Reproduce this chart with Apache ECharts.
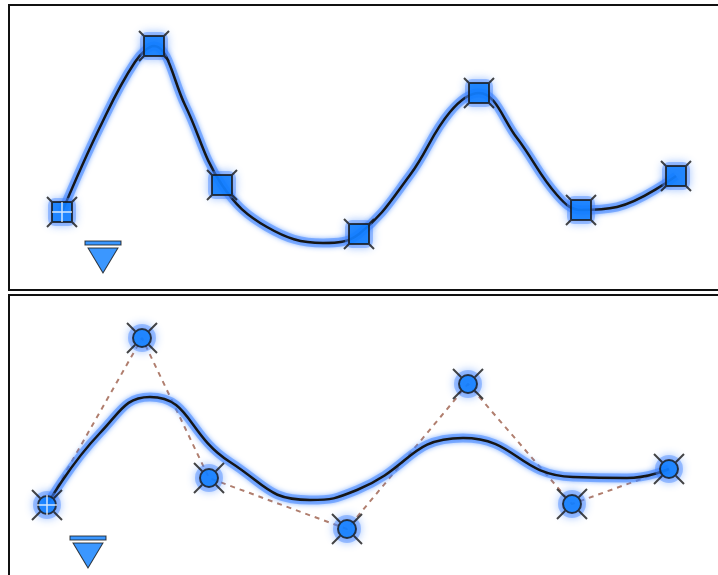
<!DOCTYPE html>
<html>
<head>
<meta charset="utf-8">
<script src="https://cdn.jsdelivr.net/npm/echarts@6/dist/echarts.min.js"></script>
<style>
    html, body {margin: 0; padding: 0; background: #fff;}
    #chart {width: 718px; height: 575px;}
</style>
</head>
<body>
<div id="chart"></div>
<script>
// top panel: fit points the spline runs through
var fitX = [62, 154, 222, 359, 479, 581, 676];
var fitY = [212, 46, 185, 234, 93, 210, 176];
// the spline itself
var fitCurveX = [62, 100, 135, 154, 185, 222, 267, 323, 359, 410, 450, 479, 517, 557, 581, 617, 676];
var fitCurveY = [212, 127, 62, 46, 105, 185, 227, 243, 234, 175, 112, 93, 138, 195, 210, 207, 176];

// bottom panel: control vertices and the curve they pull
var cvX = [47, 142, 209, 347, 468, 572, 669];
var cvY = [505, 338, 478, 529, 384, 504, 469];
var cvCurveX = [47, 100, 150, 230, 310, 357, 463, 573, 627, 669];
var cvCurveY = [505, 433, 397, 462, 500, 490, 438, 477, 478, 469];

// start markers (down triangle) under first point
var startX = [103, 88];
var startY = [257, 552];

function pairs(xs, ys) {
    return xs.map(function (x, i) {
        return [x, ys[i]];
    });
}

var BLUE = '#0a7dff';
var GLOW = '#2f7bff';
var HALO = 'rgba(70,135,255,0.55)';
var DARK = '#161616';

var squareGrip = 'path://M0,0 L5,5 M30,0 L25,5 M0,30 L5,25 M30,30 L25,25 M5,5 L25,5 L25,25 L5,25 Z';
var circleGrip = 'path://M0,0 L8,8 M30,0 L22,8 M0,30 L8,22 M30,30 L22,22 M6,15 A9,9 0 1 1 24,15 A9,9 0 1 1 6,15 Z';
var plus = 'path://M10,0 L10,20 M0,10 L20,10';
var startMark = 'path://M0,0 L36,0 L36,4 L0,4 Z M3,7 L33,7 L18,32 Z';

var chart = echarts.init(document.getElementById('chart'));

function curve(gi, xs, ys, smooth) {
    return [
        {
            type: 'line', xAxisIndex: gi, yAxisIndex: gi, clip: false,
            data: pairs(xs, ys), smooth: smooth, showSymbol: false, z: 2,
            lineStyle: {color: HALO, width: 9, shadowBlur: 5, shadowColor: GLOW}
        },
        {
            type: 'line', xAxisIndex: gi, yAxisIndex: gi, clip: false,
            data: pairs(xs, ys), smooth: smooth, showSymbol: false, z: 2,
            lineStyle: {color: DARK, width: 2.5}
        }
    ];
}

function grips(gi, xs, ys, symbol, haloSymbol) {
    return [
        {
            type: 'scatter', xAxisIndex: gi, yAxisIndex: gi, clip: false,
            data: pairs(xs, ys), symbol: haloSymbol, symbolSize: 28, z: 3,
            itemStyle: {color: HALO, shadowBlur: 8, shadowColor: GLOW}
        },
        {
            type: 'scatter', xAxisIndex: gi, yAxisIndex: gi, clip: false,
            data: pairs(xs, ys), symbol: symbol, symbolSize: 30, z: 4,
            itemStyle: {color: BLUE, borderColor: DARK, borderWidth: 2}
        }
    ];
}

var option = {
    animation: false,
    grid: [
        {left: 9, right: 0, top: 5, height: 285, show: false},
        {left: 9, right: 0, top: 295, bottom: 0, show: false}
    ],
    xAxis: [
        {type: 'value', gridIndex: 0, min: 9, max: 718, show: false},
        {type: 'value', gridIndex: 1, min: 9, max: 718, show: false}
    ],
    yAxis: [
        {type: 'value', gridIndex: 0, min: 5, max: 290, inverse: true, show: false},
        {type: 'value', gridIndex: 1, min: 295, max: 575, inverse: true, show: false}
    ],
    graphic: [
        {
            type: 'polyline', silent: true,
            shape: {points: [[720, 5], [9, 5], [9, 290], [720, 290]]},
            style: {stroke: '#111', lineWidth: 2, fill: null}
        },
        {
            type: 'polyline', silent: true,
            shape: {points: [[720, 295], [9, 295], [9, 580]]},
            style: {stroke: '#111', lineWidth: 2, fill: null}
        }
    ],
    series: [].concat(
        curve(0, fitCurveX, fitCurveY, 0.4),
        grips(0, fitX, fitY, squareGrip, 'roundRect'),
        // bottom control polygon
        [{
            type: 'line', xAxisIndex: 1, yAxisIndex: 1, clip: false,
            data: pairs(cvX, cvY), showSymbol: false, z: 1,
            lineStyle: {color: '#b07e6e', width: 2, type: [5, 5]}
        }],
        curve(1, cvCurveX, cvCurveY, 0.5),
        grips(1, cvX, cvY, circleGrip, 'circle'),
        [
            // white cross on the first point of each panel
            {
                type: 'scatter', xAxisIndex: 0, yAxisIndex: 0, clip: false,
                data: [[fitX[0], fitY[0]]], symbol: plus, symbolSize: 20, z: 5,
                itemStyle: {color: 'none', borderColor: '#fff', borderWidth: 1.5}
            },
            {
                type: 'scatter', xAxisIndex: 1, yAxisIndex: 1, clip: false,
                data: [[cvX[0], cvY[0]]], symbol: plus, symbolSize: 20, z: 5,
                itemStyle: {color: 'none', borderColor: '#fff', borderWidth: 1.5}
            },
            // start markers
            {
                type: 'scatter', xAxisIndex: 0, yAxisIndex: 0, clip: false,
                data: [[startX[0], startY[0]]], symbol: startMark, symbolSize: [36, 32], z: 3,
                itemStyle: {color: BLUE, borderColor: DARK, borderWidth: 1}
            },
            {
                type: 'scatter', xAxisIndex: 1, yAxisIndex: 1, clip: false,
                data: [[startX[1], startY[1]]], symbol: startMark, symbolSize: [36, 32], z: 3,
                itemStyle: {color: BLUE, borderColor: DARK, borderWidth: 1}
            }
        ]
    )
};

chart.setOption(option);
</script>
</body>
</html>
